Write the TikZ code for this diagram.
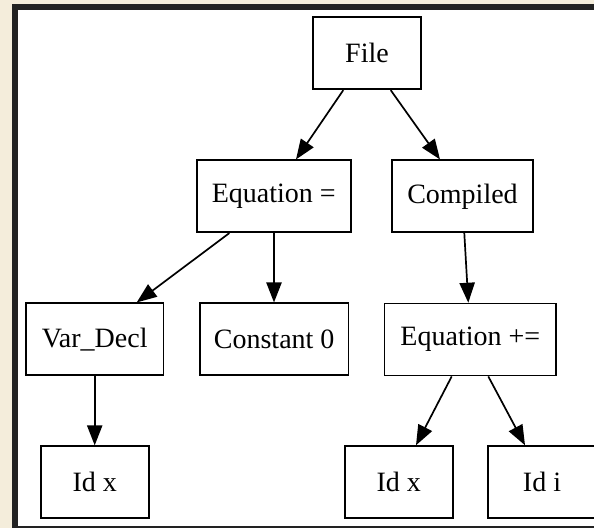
\documentclass[tikz,border=0pt]{standalone}
\usepackage{fontspec}
\setmainfont{Liberation Serif}
\usetikzlibrary{arrows.meta,calc}
\definecolor{cream}{HTML}{F4EDDB}
\definecolor{frame}{HTML}{222222}
\begin{document}
\begin{tikzpicture}[x=0.5pt,y=-0.5pt,
  box/.style={draw=black,line width=0.85pt,rectangle,fill=white,
    minimum height=36pt,inner sep=0pt,font=\fontsize{14pt}{16pt}\selectfont},
  arr/.style={draw=black,line width=0.85pt,-{Triangle[length=10pt,width=7.6pt]}}]
\useasboundingbox (0,0) rectangle (594,528);
\fill[cream] (0,0) rectangle (594,528);
\fill[white] (18,10) rectangle (594,528);
\fill[frame] (12,4) rectangle (18,528);
\fill[frame] (12,4) rectangle (594,10);
\fill[frame] (18,526) rectangle (594,527.6);
\begin{scope}
\clip (18,10) rectangle (594,526);
\node[box,minimum width=53.7pt] (file) at (367,53.3) {File};
\node[box,minimum width=77pt] (eqa) at (273.7,196.3) {Equation =};
\node[box,minimum width=70.8pt] (comp) at (462.5,196.3) {Compiled};
\node[box,minimum width=68.7pt] (var) at (94.7,339.3) {Var\_Decl};
\node[box,minimum width=74.4pt] (const) at (274.2,339.3) {Constant 0};
\node[box,minimum width=85.7pt] (eqp) at (470.3,339.6) {Equation +=};
\node[box,minimum width=54pt] (idx1) at (94.7,482.2) {Id x};
\node[box,minimum width=54pt] (idx2) at (398.7,482.1) {Id x};
\node[box,minimum width=54pt] (idi) at (542,482.1) {Id i};
\draw[arr] ($(file.south)+(-23.7,0)$) -- ($(eqa.north)+(22.3,0)$);
\draw[arr] ($(file.south)+(23.7,0)$) -- ($(comp.north)+(-22.5,0)$);
\draw[arr] ($(eqa.south)+(-44.4,0)$) -- ($(var.north)+(42,0)$);
\draw[arr] ($(eqa.south)+(0.3,0)$) -- ($(const.north)+(-0.2,0)$);
\draw[arr] ($(comp.south)+(1.8,0)$) -- ($(eqp.north)+(-2,0)$);
\draw[arr] ($(eqp.south)+(-18.6,0)$) -- ($(idx2.north)+(17.3,0)$);
\draw[arr] ($(eqp.south)+(18,0)$) -- ($(idi.north)+(-17,0)$);
\draw[arr] (var.south) -- (idx1.north);
\end{scope}
\end{tikzpicture}
\end{document}
